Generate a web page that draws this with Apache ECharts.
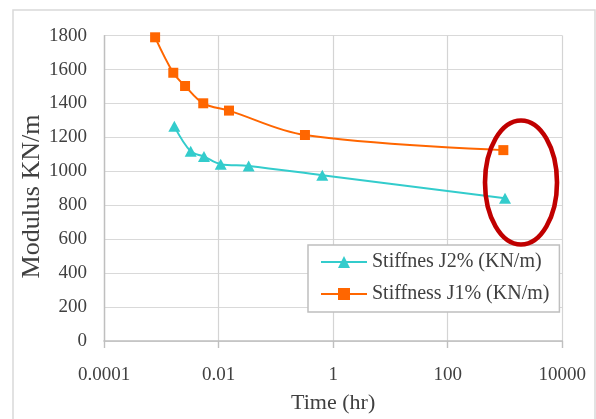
<!DOCTYPE html>
<html>
<head>
<meta charset="utf-8">
<script src="https://cdn.jsdelivr.net/npm/echarts@6/dist/echarts.min.js"></script>
<style>
  html, body { margin: 0; padding: 0; background: #ffffff; }
  #chart { width: 596px; height: 419px; }
</style>
</head>
<body>
<div id="chart"></div>
<script>
// Creep stiffness of the geogrid samples over time (hours, log scale)
const seriesNames = ['Stiffnes J2% (KN/m)', 'Stiffness J1% (KN/m)'];

const timeJ2 = [0.00169, 0.00326, 0.00556, 0.0109, 0.0335, 0.646, 1000];
const stiffJ2 = [1265, 1118, 1087, 1042, 1032, 977, 842];

const timeJ1 = [0.00078, 0.00162, 0.0026, 0.0054, 0.0152, 0.322, 935];
const stiffJ1 = [1790, 1581, 1503, 1401, 1358, 1214, 1125];

const timeTicks = ['0.0001', '0.01', '1', '100', '10000'];
const modulusTicks = ['0', '200', '400', '600', '800', '1000', '1200', '1400', '1600', '1800'];

const FONT = '"Liberation Serif", "Times New Roman", serif';
const TEXT = '#404040';
const ORANGE = '#FF6600';
const TEAL = '#33CCCC';

const pairs = (xs, ys) => xs.map((x, i) => [x, ys[i]]);

const chart = echarts.init(document.getElementById('chart'), null, { renderer: 'canvas' });

chart.setOption({
  backgroundColor: '#ffffff',
  animation: false,
  grid: { left: 104, top: 35.6, right: 33.7, bottom: 78, containLabel: false },
  xAxis: {
    type: 'log',
    logBase: 100,
    min: Number(timeTicks[0]),
    max: Number(timeTicks[timeTicks.length - 1]),
    name: 'Time (hr)',
    nameLocation: 'middle',
    nameGap: 51,
    nameTextStyle: { fontFamily: FONT, fontSize: 22, color: TEXT },
    axisLine: { show: true, lineStyle: { color: '#bfbfbf', width: 1.6 } },
    axisTick: { show: true, inside: false, length: 7, lineStyle: { color: '#bfbfbf', width: 1.4 } },
    axisLabel: {
      fontFamily: FONT, fontSize: 19, color: TEXT, margin: 25,
      formatter: v => {
        const hit = timeTicks.find(t => Math.abs(Math.log10(Number(t)) - Math.log10(v)) < 1e-6);
        return hit || '';
      }
    },
    splitLine: { show: true, lineStyle: { color: '#d4d4d4', width: 1.2 } },
    minorTick: { show: false },
    minorSplitLine: { show: false }
  },
  yAxis: {
    type: 'value',
    min: Number(modulusTicks[0]),
    max: Number(modulusTicks[modulusTicks.length - 1]),
    interval: 200,
    axisLine: { show: true, lineStyle: { color: '#bfbfbf', width: 1.4 } },
    axisTick: { show: false },
    axisLabel: {
      fontFamily: FONT, fontSize: 19, color: TEXT, margin: 17,
      formatter: v => modulusTicks[Math.round(v / 200)] || ''
    },
    splitLine: { show: true, lineStyle: { color: '#d9d9d9', width: 1.2 } }
  },
  legend: {
    orient: 'vertical',
    left: 308,
    top: 245,
    width: 241,
    padding: [7, 10, 8, 12],
    itemGap: 12,
    itemWidth: 46,
    itemHeight: 15,
    backgroundColor: '#ffffff',
    borderColor: '#bfbfbf',
    borderWidth: 1.5,
    borderRadius: 0,
    textStyle: { fontFamily: FONT, fontSize: 20, color: TEXT, lineHeight: 20 },
    data: seriesNames
  },
  series: [
    {
      name: seriesNames[0],
      type: 'line',
      data: pairs(timeJ2, stiffJ2),
      smooth: 0.35,
      symbol: 'triangle',
      symbolSize: [12, 11],
      lineStyle: { color: TEAL, width: 2 },
      itemStyle: { color: TEAL },
      z: 3
    },
    {
      name: seriesNames[1],
      type: 'line',
      data: pairs(timeJ1, stiffJ1),
      smooth: 0.35,
      symbol: 'rect',
      symbolSize: 10,
      lineStyle: { color: ORANGE, width: 2 },
      itemStyle: { color: ORANGE },
      z: 4
    }
  ],
  graphic: [
    {
      type: 'rect',
      shape: { x: 13, y: 10, width: 582, height: 430 },
      style: { fill: 'none', stroke: '#d9d9d9', lineWidth: 1.5 },
      silent: true,
      z: -1
    },
    {
      type: 'text',
      x: 32,
      y: 196.5,
      rotation: Math.PI / 2,
      style: {
        text: 'Modulus KN/m',
        font: '26px ' + FONT,
        fill: TEXT,
        textAlign: 'center',
        textVerticalAlign: 'middle'
      },
      silent: true
    },
    {
      type: 'ellipse',
      shape: { cx: 521, cy: 182.5, rx: 36, ry: 62 },
      style: { fill: 'none', stroke: '#C00000', lineWidth: 4.6 },
      silent: true,
      z: 10
    }
  ]
});
</script>
</body>
</html>
